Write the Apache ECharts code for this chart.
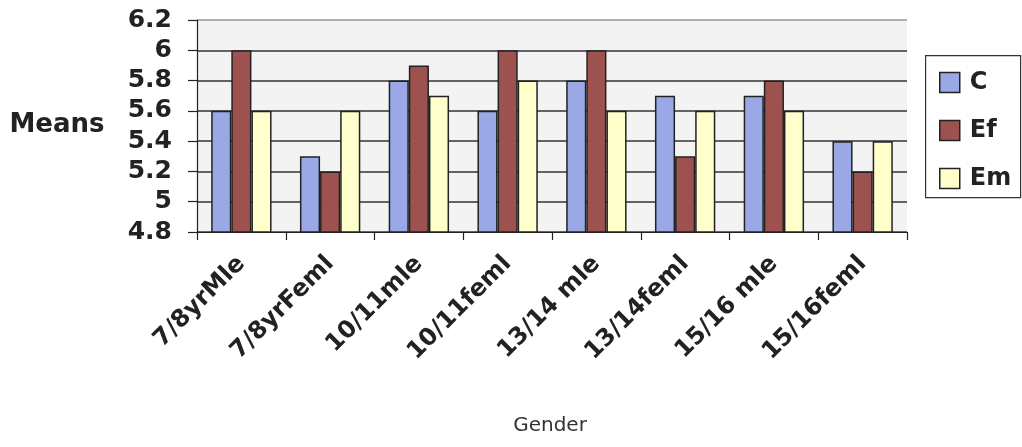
<!DOCTYPE html>
<html>
<head>
<meta charset="utf-8">
<script src="https://cdn.jsdelivr.net/npm/echarts@6/dist/echarts.min.js"></script>
<style>
  html, body { margin: 0; padding: 0; background: #ffffff; }
  #chart { width: 1022px; height: 447px; }
</style>
</head>
<body>
<div id="chart"></div>
<script>
// Group labels along the x axis
const categories = ['7/8yrMle', '7/8yrFeml', '10/11mle', '10/11feml', '13/14 mle', '13/14feml', '15/16 mle', '15/16feml'];

// Mean scores per group
const seriesNames = ['C', 'Ef', 'Em'];
const valuesC  = [5.6, 5.3, 5.8, 5.6, 5.8, 5.7, 5.7, 5.4];
const valuesEf = [6.0, 5.2, 5.9, 6.0, 6.0, 5.3, 5.8, 5.2];
const valuesEm = [5.6, 5.6, 5.7, 5.8, 5.6, 5.6, 5.6, 5.4];

// Value axis range
const yMin = 4.8;
const yMax = 6.2;
const yStep = 0.2;

const colors = ['#9aa9e6', '#9e5250', '#ffffcc'];
const BOLD_FONT = '"DejaVu Sans", "Liberation Sans", Arial, sans-serif';
const PLAIN_FONT = '"DejaVu Sans", "Liberation Sans", Arial, sans-serif';

const chart = echarts.init(document.getElementById('chart'), null, { renderer: 'canvas' });

const seriesData = [valuesC, valuesEf, valuesEm];

const option = {
  animation: false,
  backgroundColor: '#ffffff',
  grid: {
    left: 197, top: 20, width: 710, height: 212,
    show: true, backgroundColor: '#f3f3f3', borderWidth: 0
  },
  legend: {
    orient: 'vertical',
    left: 934, top: 65,
    itemWidth: 20, itemHeight: 20, itemGap: 23,
    icon: 'rect',
    itemStyle: { borderColor: '#222', borderWidth: 1.5 },
    textStyle: {
      fontFamily: BOLD_FONT, fontWeight: 'bold', fontSize: 24, color: '#222',
      lineHeight: 25, padding: [0, 0, 0, 5]
    },
    data: seriesNames
  },
  xAxis: {
    type: 'category',
    data: categories,
    axisLine: { lineStyle: { color: '#222', width: 1.2 } },
    axisTick: { show: true, length: 8, lineStyle: { color: '#222', width: 1.2 } },
    axisLabel: {
      interval: 0, rotate: 45, margin: 28,
      fontFamily: BOLD_FONT, fontWeight: 'bold', fontSize: 24, color: '#222'
    }
  },
  yAxis: {
    type: 'value',
    min: yMin, max: yMax, interval: yStep,
    axisLine: { show: true, lineStyle: { color: '#222', width: 1.2 } },
    axisTick: { show: true, length: 9, lineStyle: { color: '#222', width: 1.2 } },
    axisLabel: {
      margin: 25,
      fontFamily: BOLD_FONT, fontWeight: 'bold', fontSize: 25, color: '#222',
      formatter: v => String(Math.round(v * 10) / 10)
    },
    splitLine: {
      show: true,
      lineStyle: { color: ['#333', '#333', '#333', '#333', '#333', '#333', '#333', '#999'], width: 1.5 }
    }
  },
  graphic: [
    {
      type: 'rect', left: 925, top: 55, z: 0,
      shape: { width: 95, height: 142 },
      style: { fill: '#ffffff', stroke: '#333', lineWidth: 1.2 }
    },
    {
      type: 'text', x: 57, y: 125,
      style: {
        text: 'Means', fontFamily: BOLD_FONT, fontWeight: 'bold', fontSize: 26,
        fill: '#222', align: 'center', verticalAlign: 'middle'
      }
    },
    {
      type: 'text', x: 550, y: 426,
      style: {
        text: 'Gender', fontFamily: PLAIN_FONT, fontSize: 20,
        fill: '#333', align: 'center', verticalAlign: 'middle'
      }
    }
  ],
  series: seriesNames.map((name, i) => ({
    name: name,
    type: 'bar',
    data: seriesData[i],
    barGap: '0%',
    barCategoryGap: '32%',
    itemStyle: { color: colors[i], borderColor: '#222', borderWidth: 1.5 }
  }))
};

chart.setOption(option);
</script>
</body>
</html>
